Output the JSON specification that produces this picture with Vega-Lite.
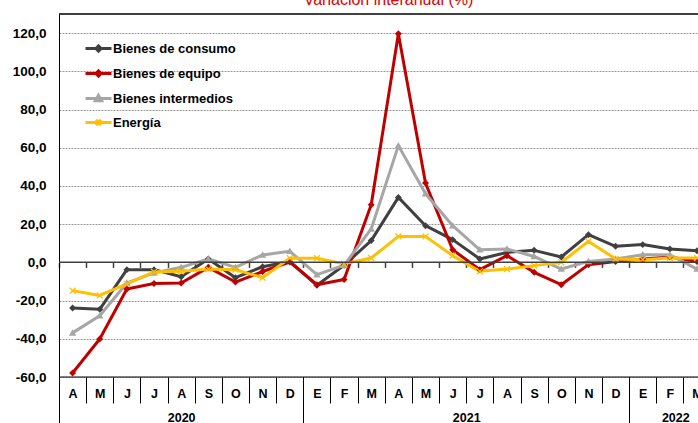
{
  "$schema": "https://vega.github.io/schema/vega-lite/v6.json",
  "width": 639,
  "height": 363,
  "autosize": {"type": "none"},
  "padding": {"left": 59, "top": 14, "right": 0, "bottom": 46},
  "background": "#ffffff",
  "config": {"view": {"stroke": null}, "font": "Liberation Sans"},
  "title": {
    "text": "Variación interanual (%)",
    "color": "#E00000",
    "fontSize": 16,
    "fontWeight": "normal",
    "font": "Liberation Sans",
    "anchor": "middle",
    "frame": "group",
    "baseline": "alphabetic",
    "offset": 6,
    "dx": 10,
    "dy": 14
  },
  "data": {
    "values": [
      {"n":1,"mes":"2020-04","serie":"Bienes de consumo","valor":-23.9},
      {"n":2,"mes":"2020-05","serie":"Bienes de consumo","valor":-24.6},
      {"n":3,"mes":"2020-06","serie":"Bienes de consumo","valor":-3.8},
      {"n":4,"mes":"2020-07","serie":"Bienes de consumo","valor":-3.8},
      {"n":5,"mes":"2020-08","serie":"Bienes de consumo","valor":-7.5},
      {"n":6,"mes":"2020-09","serie":"Bienes de consumo","valor":1.8},
      {"n":7,"mes":"2020-10","serie":"Bienes de consumo","valor":-8.0},
      {"n":8,"mes":"2020-11","serie":"Bienes de consumo","valor":-2.3},
      {"n":9,"mes":"2020-12","serie":"Bienes de consumo","valor":0.5},
      {"n":10,"mes":"2021-01","serie":"Bienes de consumo","valor":-12.0},
      {"n":11,"mes":"2021-02","serie":"Bienes de consumo","valor":-1.5},
      {"n":12,"mes":"2021-03","serie":"Bienes de consumo","valor":11.4},
      {"n":13,"mes":"2021-04","serie":"Bienes de consumo","valor":34.0},
      {"n":14,"mes":"2021-05","serie":"Bienes de consumo","valor":19.2},
      {"n":15,"mes":"2021-06","serie":"Bienes de consumo","valor":11.9},
      {"n":16,"mes":"2021-07","serie":"Bienes de consumo","valor":1.8},
      {"n":17,"mes":"2021-08","serie":"Bienes de consumo","valor":5.2},
      {"n":18,"mes":"2021-09","serie":"Bienes de consumo","valor":6.3},
      {"n":19,"mes":"2021-10","serie":"Bienes de consumo","valor":2.8},
      {"n":20,"mes":"2021-11","serie":"Bienes de consumo","valor":14.5},
      {"n":21,"mes":"2021-12","serie":"Bienes de consumo","valor":8.4},
      {"n":22,"mes":"2022-01","serie":"Bienes de consumo","valor":9.3},
      {"n":23,"mes":"2022-02","serie":"Bienes de consumo","valor":7.0},
      {"n":24,"mes":"2022-03","serie":"Bienes de consumo","valor":6.1},
      {"n":1,"mes":"2020-04","serie":"Bienes de equipo","valor":-57.9},
      {"n":2,"mes":"2020-05","serie":"Bienes de equipo","valor":-40.1},
      {"n":3,"mes":"2020-06","serie":"Bienes de equipo","valor":-13.9},
      {"n":4,"mes":"2020-07","serie":"Bienes de equipo","valor":-11.1},
      {"n":5,"mes":"2020-08","serie":"Bienes de equipo","valor":-10.8},
      {"n":6,"mes":"2020-09","serie":"Bienes de equipo","valor":-2.6},
      {"n":7,"mes":"2020-10","serie":"Bienes de equipo","valor":-10.3},
      {"n":8,"mes":"2020-11","serie":"Bienes de equipo","valor":-4.8},
      {"n":9,"mes":"2020-12","serie":"Bienes de equipo","valor":0.2},
      {"n":10,"mes":"2021-01","serie":"Bienes de equipo","valor":-11.7},
      {"n":11,"mes":"2021-02","serie":"Bienes de equipo","valor":-9.0},
      {"n":12,"mes":"2021-03","serie":"Bienes de equipo","valor":30.2},
      {"n":13,"mes":"2021-04","serie":"Bienes de equipo","valor":119.7},
      {"n":14,"mes":"2021-05","serie":"Bienes de equipo","valor":41.5},
      {"n":15,"mes":"2021-06","serie":"Bienes de equipo","valor":6.6},
      {"n":16,"mes":"2021-07","serie":"Bienes de equipo","valor":-3.8},
      {"n":17,"mes":"2021-08","serie":"Bienes de equipo","valor":3.5},
      {"n":18,"mes":"2021-09","serie":"Bienes de equipo","valor":-5.2},
      {"n":19,"mes":"2021-10","serie":"Bienes de equipo","valor":-11.7},
      {"n":20,"mes":"2021-11","serie":"Bienes de equipo","valor":-1.2},
      {"n":21,"mes":"2021-12","serie":"Bienes de equipo","valor":0.5},
      {"n":22,"mes":"2022-01","serie":"Bienes de equipo","valor":1.8},
      {"n":23,"mes":"2022-02","serie":"Bienes de equipo","valor":2.8},
      {"n":24,"mes":"2022-03","serie":"Bienes de equipo","valor":0.5},
      {"n":1,"mes":"2020-04","serie":"Bienes intermedios","valor":-36.9},
      {"n":2,"mes":"2020-05","serie":"Bienes intermedios","valor":-27.9},
      {"n":3,"mes":"2020-06","serie":"Bienes intermedios","valor":-10.8},
      {"n":4,"mes":"2020-07","serie":"Bienes intermedios","valor":-5.5},
      {"n":5,"mes":"2020-08","serie":"Bienes intermedios","valor":-2.6},
      {"n":6,"mes":"2020-09","serie":"Bienes intermedios","valor":1.8},
      {"n":7,"mes":"2020-10","serie":"Bienes intermedios","valor":-2.6},
      {"n":8,"mes":"2020-11","serie":"Bienes intermedios","valor":3.9},
      {"n":9,"mes":"2020-12","serie":"Bienes intermedios","valor":5.8},
      {"n":10,"mes":"2021-01","serie":"Bienes intermedios","valor":-6.4},
      {"n":11,"mes":"2021-02","serie":"Bienes intermedios","valor":-1.5},
      {"n":12,"mes":"2021-03","serie":"Bienes intermedios","valor":17.5},
      {"n":13,"mes":"2021-04","serie":"Bienes intermedios","valor":61.1},
      {"n":14,"mes":"2021-05","serie":"Bienes intermedios","valor":35.9},
      {"n":15,"mes":"2021-06","serie":"Bienes intermedios","valor":19.2},
      {"n":16,"mes":"2021-07","serie":"Bienes intermedios","valor":6.6},
      {"n":17,"mes":"2021-08","serie":"Bienes intermedios","valor":7.0},
      {"n":18,"mes":"2021-09","serie":"Bienes intermedios","valor":3.1},
      {"n":19,"mes":"2021-10","serie":"Bienes intermedios","valor":-3.5},
      {"n":20,"mes":"2021-11","serie":"Bienes intermedios","valor":0.5},
      {"n":21,"mes":"2021-12","serie":"Bienes intermedios","valor":1.8},
      {"n":22,"mes":"2022-01","serie":"Bienes intermedios","valor":4.0},
      {"n":23,"mes":"2022-02","serie":"Bienes intermedios","valor":4.0},
      {"n":24,"mes":"2022-03","serie":"Bienes intermedios","valor":-3.5},
      {"n":1,"mes":"2020-04","serie":"Energía","valor":-14.8},
      {"n":2,"mes":"2020-05","serie":"Energía","valor":-17.3},
      {"n":3,"mes":"2020-06","serie":"Energía","valor":-11.3},
      {"n":4,"mes":"2020-07","serie":"Energía","valor":-5.0},
      {"n":5,"mes":"2020-08","serie":"Energía","valor":-4.7},
      {"n":6,"mes":"2020-09","serie":"Energía","valor":-3.5},
      {"n":7,"mes":"2020-10","serie":"Energía","valor":-3.8},
      {"n":8,"mes":"2020-11","serie":"Energía","valor":-8.0},
      {"n":9,"mes":"2020-12","serie":"Energía","valor":2.2},
      {"n":10,"mes":"2021-01","serie":"Energía","valor":2.2},
      {"n":11,"mes":"2021-02","serie":"Energía","valor":-0.8},
      {"n":12,"mes":"2021-03","serie":"Energía","valor":2.3},
      {"n":13,"mes":"2021-04","serie":"Energía","valor":13.6},
      {"n":14,"mes":"2021-05","serie":"Energía","valor":13.6},
      {"n":15,"mes":"2021-06","serie":"Energía","valor":3.5},
      {"n":16,"mes":"2021-07","serie":"Energía","valor":-4.7},
      {"n":17,"mes":"2021-08","serie":"Energía","valor":-3.5},
      {"n":18,"mes":"2021-09","serie":"Energía","valor":-1.7},
      {"n":19,"mes":"2021-10","serie":"Energía","valor":0.0},
      {"n":20,"mes":"2021-11","serie":"Energía","valor":11.0},
      {"n":21,"mes":"2021-12","serie":"Energía","valor":1.8},
      {"n":22,"mes":"2022-01","serie":"Energía","valor":1.4},
      {"n":23,"mes":"2022-02","serie":"Energía","valor":2.3},
      {"n":24,"mes":"2022-03","serie":"Energía","valor":2.3}
    ]
  },
  "resolve": {"axis": {"x": "independent"}},
  "layer": [
    {
      "data": {"values": [{}]},
      "mark": {"type": "rule", "color": "#000000", "strokeWidth": 1.5},
      "encoding": {
        "x": {"datum": 0.5, "type": "quantitative", "axis": null},
        "x2": {"datum": 24.5},
        "y": {"datum": 130, "type": "quantitative"}
      }
    },
    {
      "data": {"values": [{}]},
      "mark": {"type": "rule", "color": "#000000", "strokeWidth": 1},
      "encoding": {
        "x": {"datum": 0.5, "type": "quantitative",
          "axis": {"orient": "bottom", "title": null, "values": [0.5,9.5,21.5], "tickSize": 46, "tickColor": "#000000", "tickWidth": 1, "labels": false, "domain": false, "grid": false}},
        "x2": {"datum": 24.5},
        "y": {"datum": -60, "type": "quantitative"}
      }
    },
    {
      "mark": {"type": "line", "strokeJoin": "round"},
      "encoding": {
        "x": {"field": "n", "type": "quantitative",
          "scale": {"domain": [0.5, 24.036], "nice": false, "zero": false},
          "axis": {"orient": "bottom", "title": null, "values": [0.5,1.5,2.5,3.5,4.5,5.5,6.5,7.5,8.5,9.5,10.5,11.5,12.5,13.5,14.5,15.5,16.5,17.5,18.5,19.5,20.5,21.5,22.5,23.5],
            "tickSize": 26, "tickColor": "#000000", "tickWidth": 1, "domain": false, "grid": false,
            "labelExpr": "['A','M','J','J','A','S','O','N','D','E','F','M','A','M','J','J','A','S','O','N','D','E','F','M'][floor(datum.value)]",
            "labelOffset": 13.575, "labelPadding": -9.5, "labelBaseline": "middle", "labelAlign": "center",
            "labelFont": "Liberation Sans", "labelFontSize": 12.5, "labelFontWeight": "bold", "labelColor": "#000000",
            "labelFlush": false, "labelOverlap": false, "labelBound": false}},
        "y": {"field": "valor", "type": "quantitative",
          "scale": {"domain": [-60, 130], "nice": false, "zero": false},
          "axis": {"title": null, "orient": "left", "values": [-60,-40,-20,0,20,40,60,80,100,120], "ticks": false, "tickSize": 0,
            "domain": true, "domainColor": "#000000", "domainWidth": 1,
            "grid": true, "gridColor": "#9a9a9a", "gridDash": [2,1], "gridWidth": 1,
            "labelExpr": "replace(replace(format(datum.value, '.1f'), '.', ','), '\u2212', '-')",
            "labelPadding": 13, "labelFont": "Liberation Sans", "labelFontSize": 13.5, "labelFontWeight": "bold", "labelColor": "#000000", "labelOverlap": false}},
        "color": {"field": "serie", "type": "nominal",
          "scale": {"domain": ["Bienes de consumo","Bienes de equipo","Bienes intermedios","Energía"], "range": ["#404040","#C00000","#A6A6A6","#FFC000"]}},
        "strokeWidth": {"field": "serie", "type": "nominal",
          "scale": {"domain": ["Bienes de consumo","Bienes de equipo","Bienes intermedios","Energía"], "range": [3, 3, 2, 2]}}
      }
    },
    {
      "transform": [{"filter": "datum.serie == 'Bienes de consumo' || datum.serie == 'Bienes de equipo'"}],
      "mark": {"type": "point", "filled": true, "opacity": 1, "shape": "M0,-1L1,0L0,1L-1,0Z", "size": 48},
      "encoding": {
        "x": {"field": "n", "type": "quantitative",
          "axis": {"orient": "bottom", "title": null, "values": [5, 15.5, 23.2], "ticks": false, "tickSize": 0, "domain": false, "grid": false,
            "labelExpr": "datum.value < 10 ? '2020' : datum.value < 20 ? '2021' : '2022'",
            "labelPadding": 40, "labelBaseline": "middle", "labelAlign": "center",
            "labelFont": "Liberation Sans", "labelFontSize": 12.5, "labelFontWeight": "bold", "labelColor": "#000000",
            "labelFlush": false, "labelOverlap": false, "labelBound": false}},
        "y": {"field": "valor", "type": "quantitative"},
        "color": {"field": "serie", "type": "nominal"}
      }
    },
    {
      "transform": [{"filter": "datum.serie == 'Bienes intermedios'"}],
      "mark": {"type": "point", "filled": true, "opacity": 1, "shape": "M0,-1L1,0.75L-1,0.75Z", "size": 55},
      "encoding": {
        "x": {"field": "n", "type": "quantitative", "axis": null},
        "y": {"field": "valor", "type": "quantitative"},
        "color": {"field": "serie", "type": "nominal"}
      }
    },
    {
      "transform": [{"filter": "datum.serie == 'Energía'"}],
      "mark": {"type": "point", "filled": false, "opacity": 1, "strokeWidth": 1.3, "shape": "M-0.8,-0.8L0.8,0.8M-0.8,0.8L0.8,-0.8", "size": 55},
      "encoding": {
        "x": {"field": "n", "type": "quantitative", "axis": null},
        "y": {"field": "valor", "type": "quantitative"},
        "color": {"field": "serie", "type": "nominal"}
      }
    },
    {
      "transform": [{"filter": "datum.n == 1"}],
      "mark": {"type": "point", "filled": false, "opacity": 0, "size": 676},
      "encoding": {
        "x": {"field": "n", "type": "quantitative", "axis": null},
        "y": {"field": "valor", "type": "quantitative"},
        "color": {"field": "serie", "type": "nominal",
          "legend": {"orient": "none", "legendX": 25, "legendY": 20, "title": null, "padding": 0,
            "symbolSize": 676, "symbolOpacity": 1,
            "rowPadding": 1, "labelOffset": 0,
            "labelFont": "Liberation Sans", "labelFontSize": 13, "labelFontWeight": "bold", "labelColor": "#000000"}},
        "shape": {"field": "serie", "type": "nominal",
          "scale": {"domain": ["Bienes de consumo","Bienes de equipo","Bienes intermedios","Energía"],
            "range": ["M-1,0H1M-0.2,0L0,-0.2L0.2,0L0,0.2Z", "M-1,0H1M-0.2,0L0,-0.2L0.2,0L0,0.2Z", "M-1,0H1M0,-0.24L0.24,0.18L-0.24,0.18Z", "M-1,0H1M-0.2,-0.2L0.2,0.2M-0.2,0.2L0.2,-0.2"]}},
        "strokeWidth": {"field": "serie", "type": "nominal"}
      }
    },
    {
      "data": {"values": [{}]},
      "mark": {"type": "rule", "color": "#404040", "strokeWidth": 1.5},
      "encoding": {
        "x": {"datum": 0.5, "type": "quantitative",
          "axis": {"orient": "bottom", "title": null, "offset": -114.6, "values": [0.5,1.5,2.5,3.5,4.5,5.5,6.5,7.5,8.5,9.5,10.5,11.5,12.5,13.5,14.5,15.5,16.5,17.5,18.5,19.5,20.5,21.5,22.5,23.5],
            "tickSize": 5, "tickColor": "#404040", "tickWidth": 1.5, "labels": false, "domain": false, "grid": false}},
        "x2": {"datum": 24.5},
        "y": {"datum": 0, "type": "quantitative"}
      }
    }
  ]
}
